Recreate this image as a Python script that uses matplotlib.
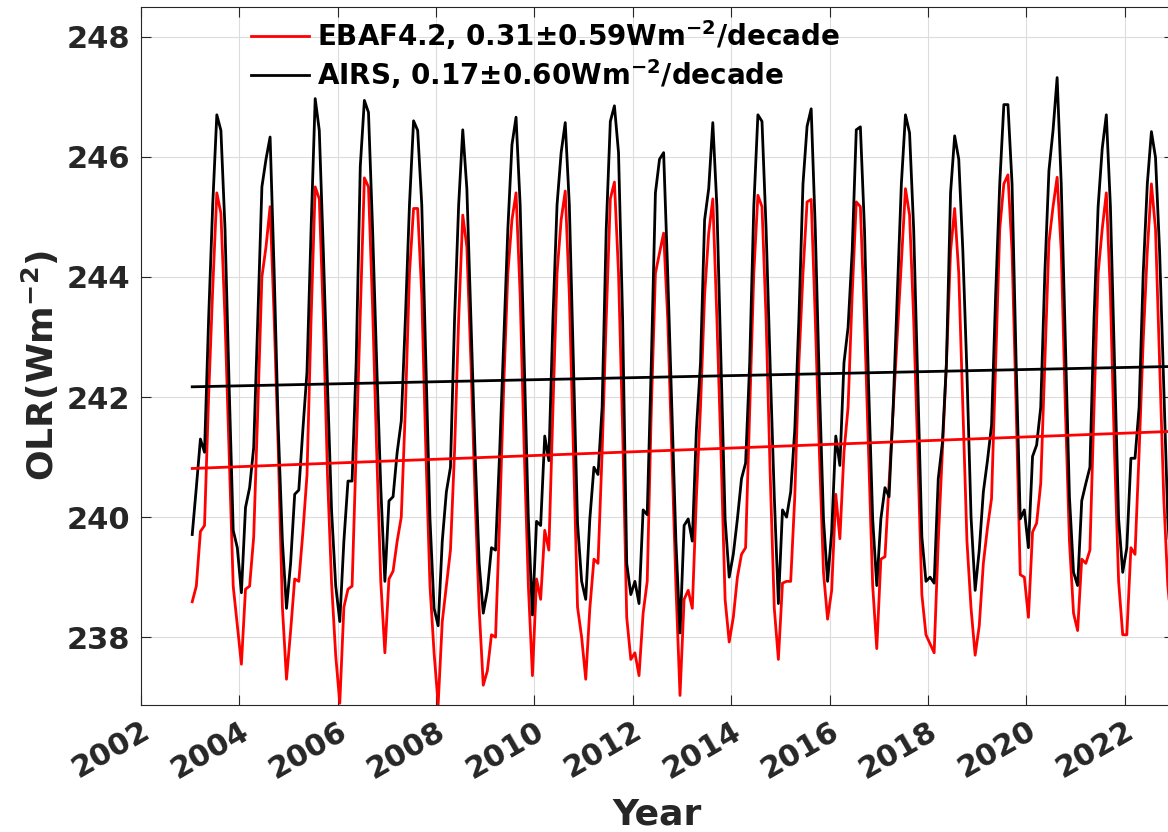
import matplotlib.pyplot as plt
import numpy as np

plt.rcParams['font.family'] = 'DejaVu Sans'
plt.rcParams['font.weight'] = 'bold'
plt.rcParams['mathtext.default'] = 'bf'

# Monthly global-mean OLR (W m-2), Jan 2003 - Dec 2022, one row per year
ebaf_olr = [
    238.59, 238.85, 239.76, 239.86, 242.00, 243.80, 245.40, 245.06, 243.30, 241.10, 238.85, 238.20,
    237.55, 238.80, 238.85, 239.67, 241.80, 244.00, 244.50, 245.17, 243.30, 241.10, 238.50, 237.30,
    238.10, 238.97, 238.93, 239.75, 240.70, 243.30, 245.50, 245.30, 243.30, 240.70, 238.90, 237.70,
    236.90, 238.50, 238.80, 238.85, 241.10, 243.30, 245.65, 245.50, 243.50, 241.10, 238.93, 237.74,
    238.97, 239.10, 239.60, 240.00, 241.80, 244.06, 245.14, 245.14, 243.70, 241.10, 238.86, 237.74,
    236.88, 238.26, 238.86, 239.45, 241.10, 243.30, 245.03, 244.50, 242.57, 240.34, 238.48, 237.20,
    237.44, 238.04, 238.00, 239.97, 242.20, 244.06, 244.95, 245.40, 243.70, 241.10, 238.86, 237.36,
    238.97, 238.63, 239.78, 239.45, 241.80, 244.06, 244.95, 245.43, 243.70, 241.10, 238.50, 238.00,
    237.30, 238.48, 239.30, 239.23, 241.08, 243.30, 245.30, 245.58, 244.06, 241.46, 238.33, 237.63,
    237.74, 237.36, 238.40, 238.93, 241.80, 244.06, 244.40, 244.73, 243.30, 241.08, 238.86, 237.03,
    238.63, 238.78, 238.48, 240.34, 241.83, 243.70, 244.73, 245.30, 243.30, 241.08, 238.63, 237.92,
    238.33, 239.00, 239.38, 239.49, 241.80, 244.06, 245.36, 245.17, 243.30, 240.71, 238.48, 237.63,
    238.90, 238.93, 238.93, 240.34, 242.57, 244.06, 245.25, 245.29, 243.30, 241.08, 239.08, 238.30,
    238.78, 240.38, 239.64, 241.08, 241.83, 243.70, 245.25, 245.17, 243.30, 241.08, 238.86, 237.81,
    239.30, 239.34, 240.56, 241.80, 243.00, 244.20, 245.47, 245.03, 243.30, 241.08, 238.71, 238.04,
    237.89, 237.74, 239.60, 241.08, 242.57, 244.43, 245.14, 244.06, 241.80, 239.60, 238.48, 237.70,
    238.19, 239.23, 239.82, 240.31, 242.57, 244.80, 245.55, 245.70, 244.43, 241.83, 239.04, 239.00,
    238.33, 239.75, 239.90, 240.56, 242.57, 244.58, 245.17, 245.66, 244.43, 241.83, 239.60, 238.40,
    238.11, 239.30, 239.23, 239.45, 241.83, 244.06, 244.80, 245.40, 243.70, 241.08, 238.93, 238.04,
    238.04, 239.49, 239.38, 241.08, 242.94, 244.43, 245.55, 244.80, 242.57, 240.34, 238.86, 238.10,
]

airs_olr = [
    239.71, 240.49, 241.30, 241.08, 243.30, 245.20, 246.70, 246.44, 244.80, 242.20, 239.78, 239.49,
    238.74, 240.16, 240.49, 241.16, 243.30, 245.50, 245.96, 246.33, 244.06, 241.46, 239.60, 238.48,
    239.23, 240.38, 240.45, 241.46, 242.42, 244.80, 246.97, 246.44, 244.40, 242.20, 240.10, 238.86,
    238.26, 239.60, 240.60, 240.60, 242.57, 245.84, 246.94, 246.74, 244.80, 242.57, 240.49, 238.93,
    240.27, 240.34, 241.08, 241.60, 243.30, 245.20, 246.60, 246.44, 245.20, 242.57, 239.97, 238.48,
    238.19, 239.60, 240.42, 240.83, 243.30, 245.20, 246.45, 245.47, 243.30, 241.08, 239.23, 238.40,
    238.78, 239.49, 239.45, 241.08, 242.94, 244.80, 246.20, 246.66, 245.20, 242.57, 239.97, 238.37,
    239.93, 239.86, 241.35, 240.94, 243.30, 245.20, 246.07, 246.57, 245.20, 242.57, 239.90, 238.93,
    238.63, 239.97, 240.83, 240.71, 241.83, 244.80, 246.59, 246.85, 246.07, 243.30, 239.23, 238.71,
    238.93, 238.56, 240.12, 240.04, 242.57, 245.40, 245.96, 246.07, 244.06, 241.83, 239.60, 238.07,
    239.86, 239.97, 239.60, 241.46, 242.57, 244.95, 245.47, 246.57, 245.17, 242.57, 239.97, 239.00,
    239.38, 239.97, 240.64, 240.90, 242.57, 245.17, 246.70, 246.59, 244.80, 242.50, 240.34, 238.56,
    240.12, 240.00, 240.42, 241.46, 243.30, 245.55, 246.51, 246.80, 244.80, 242.20, 239.97, 238.93,
    239.75, 241.35, 240.86, 242.57, 243.16, 244.43, 246.45, 246.50, 244.80, 242.20, 239.97, 238.86,
    239.97, 240.49, 240.34, 241.83, 243.70, 245.55, 246.70, 246.40, 244.80, 242.20, 239.67, 238.93,
    239.00, 238.90, 240.64, 241.23, 242.57, 245.40, 246.35, 245.96, 244.43, 242.40, 240.00, 238.78,
    239.45, 240.42, 240.94, 241.53, 243.70, 245.55, 246.87, 246.87, 245.55, 242.57, 239.97, 240.12,
    239.49, 241.01, 241.20, 241.83, 244.06, 245.77, 246.44, 247.32, 245.55, 242.94, 240.34, 239.08,
    238.86, 240.27, 240.56, 240.83, 243.30, 245.17, 246.14, 246.70, 245.17, 242.57, 239.97, 239.08,
    239.49, 240.98, 240.98, 241.83, 244.06, 245.55, 246.42, 245.99, 244.43, 242.20, 239.97, 238.86,
]

# Linear trends (W m-2 per decade) and fitted value at the first month
ebaf_trend = 0.31
ebaf_err = 0.59
ebaf_start = 240.81
airs_trend = 0.17
airs_err = 0.60
airs_start = 242.17

first_year = 2003
t = first_year + (np.arange(len(ebaf_olr)) + 0.5) / 12.0

fig = plt.figure(figsize=(11.68, 8.32), dpi=100)
ax = fig.add_axes([0.1207, 0.1526, 0.8844, 0.8393])

lw = 2.0
ax.plot(t, ebaf_olr, color='red', lw=lw,
        label=r'EBAF4.2, %.2f$\pm$%.2fWm$^{-2}$/decade' % (ebaf_trend, ebaf_err))
ax.plot(t, airs_olr, color='black', lw=lw,
        label=r'AIRS, %.2f$\pm$%.2fWm$^{-2}$/decade' % (airs_trend, airs_err))

# trend lines
ax.plot(t, ebaf_start + ebaf_trend * (t - t[0]) / 10.0, color='red', lw=lw)
ax.plot(t, airs_start + airs_trend * (t - t[0]) / 10.0, color='black', lw=lw)

ax.set_xlim(2002, 2023)
ax.set_ylim(236.87, 248.5)
ax.set_xticks(np.arange(2002, 2023, 2))
ax.set_yticks(np.arange(238, 249, 2))

tick_color = '#262626'
ax.tick_params(direction='in', length=7, width=0.8, top=True, right=True,
               colors=tick_color, labelsize=22, pad=8)
for lbl in ax.get_xticklabels():
    lbl.set_rotation(30)
    lbl.set_ha('right')
    lbl.set_rotation_mode('anchor')
    lbl.set_fontweight('bold')
for lbl in ax.get_yticklabels():
    lbl.set_fontweight('bold')
for s in ax.spines.values():
    s.set_color(tick_color)
    s.set_linewidth(0.8)

ax.grid(True, color='#dcdcdc', lw=0.8)
ax.set_axisbelow(True)

ax.set_xlabel('Year', fontsize=26, fontweight='bold', color=tick_color, labelpad=10)
ax.set_ylabel(r'OLR(Wm$^{-2}$)', fontsize=26, fontweight='bold', color=tick_color)
ax.yaxis.set_label_coords(-0.077, 0.486)

ax.legend(loc='upper left', bbox_to_anchor=(0.082, 1.02), frameon=False,
          handlelength=2.1, handletextpad=0.3, labelspacing=0.2,
          prop={'weight': 'bold', 'size': 20})

fig.savefig('out.png', dpi=100)
